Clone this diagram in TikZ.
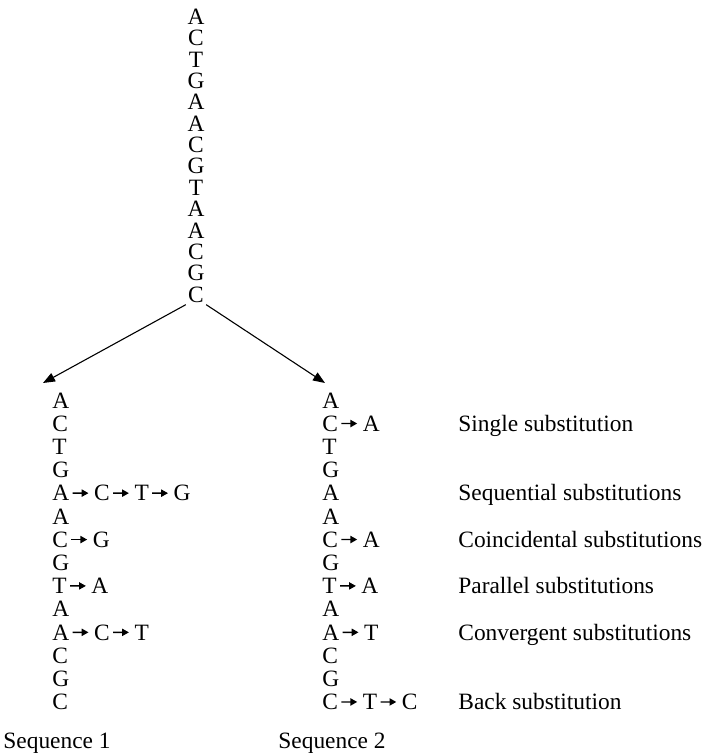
\documentclass[tikz,border=0pt]{standalone}
\usepackage{fontspec}
\setmainfont{Liberation Serif}
\usetikzlibrary{arrows.meta,positioning}
\tikzset{
  >={Triangle[length=6pt,width=4.6pt]},
  nt/.style={inner xsep=1pt,inner ysep=1pt,font=\fontsize{11.7}{13}\selectfont},
  sub/.style={-{Triangle[length=3.4pt,width=3.6pt]},line width=0.7pt,
    shorten <=0.5pt,shorten >=1.6pt},
  lbl/.style={anchor=base west,inner sep=0pt,font=\fontsize{11.7}{13}\selectfont},
}
\begin{document}
\begin{tikzpicture}[x=0.5pt,y=-0.5pt,node distance=10pt]
  \useasboundingbox (0,0) rectangle (709,755);
  % ancestral sequence
  \foreach \b [count=\i from 0] in {A,C,T,G,A,A,C,G,T,A,A,C,G,C}
    \node[nt,anchor=base] (t\i) at (196,24.5+21.35*\i) {\b};
  % the two descendants
  \foreach \b [count=\i from 0] in {A,C,T,G,A,A,C,G,T,A,A,C,G,C}{
    \node[nt,anchor=base west] (s1r\i) at (50,408+23.2*\i) {\b};
    \node[nt,anchor=base west] (s2r\i) at (320,408+23.2*\i) {\b};
  }
  \coordinate (tip1) at (43,383);
  \coordinate (tip2) at (325,383);
  \draw[->,line width=0.55pt] (t13.south west) -- (tip1);
  \draw[->,line width=0.55pt] (t13.south east) -- (tip2);
  % substitutions
  \foreach \p/\n/\l in {s1r4/s1r4b/C,s1r4b/s1r4c/T,s1r4c/s1r4d/G,s1r6/s1r6b/G,
      s1r8/s1r8b/A,s1r10/s1r10b/C,s1r10b/s1r10c/T,s2r1/s2r1b/A,s2r6/s2r6b/A,
      s2r8/s2r8b/A,s2r10/s2r10b/T,s2r13/s2r13b/T,s2r13b/s2r13c/C}{
    \node[nt,base right=of \p] (\n) {\l};
    \draw[sub] (\p) -- (\n);
  }
  \foreach \r/\t in {1/Single substitution,4/Sequential substitutions,
      6/Coincidental substitutions,8/Parallel substitutions,
      10/Convergent substitutions,13/Back substitution}
    \node[lbl] (lab\r) at (458,408+23.2*\r) {\t};
  \node[lbl] (seq1) at (3,748) {Sequence 1};
  \node[lbl] (seq2) at (278,748) {Sequence 2};
\end{tikzpicture}
\end{document}
